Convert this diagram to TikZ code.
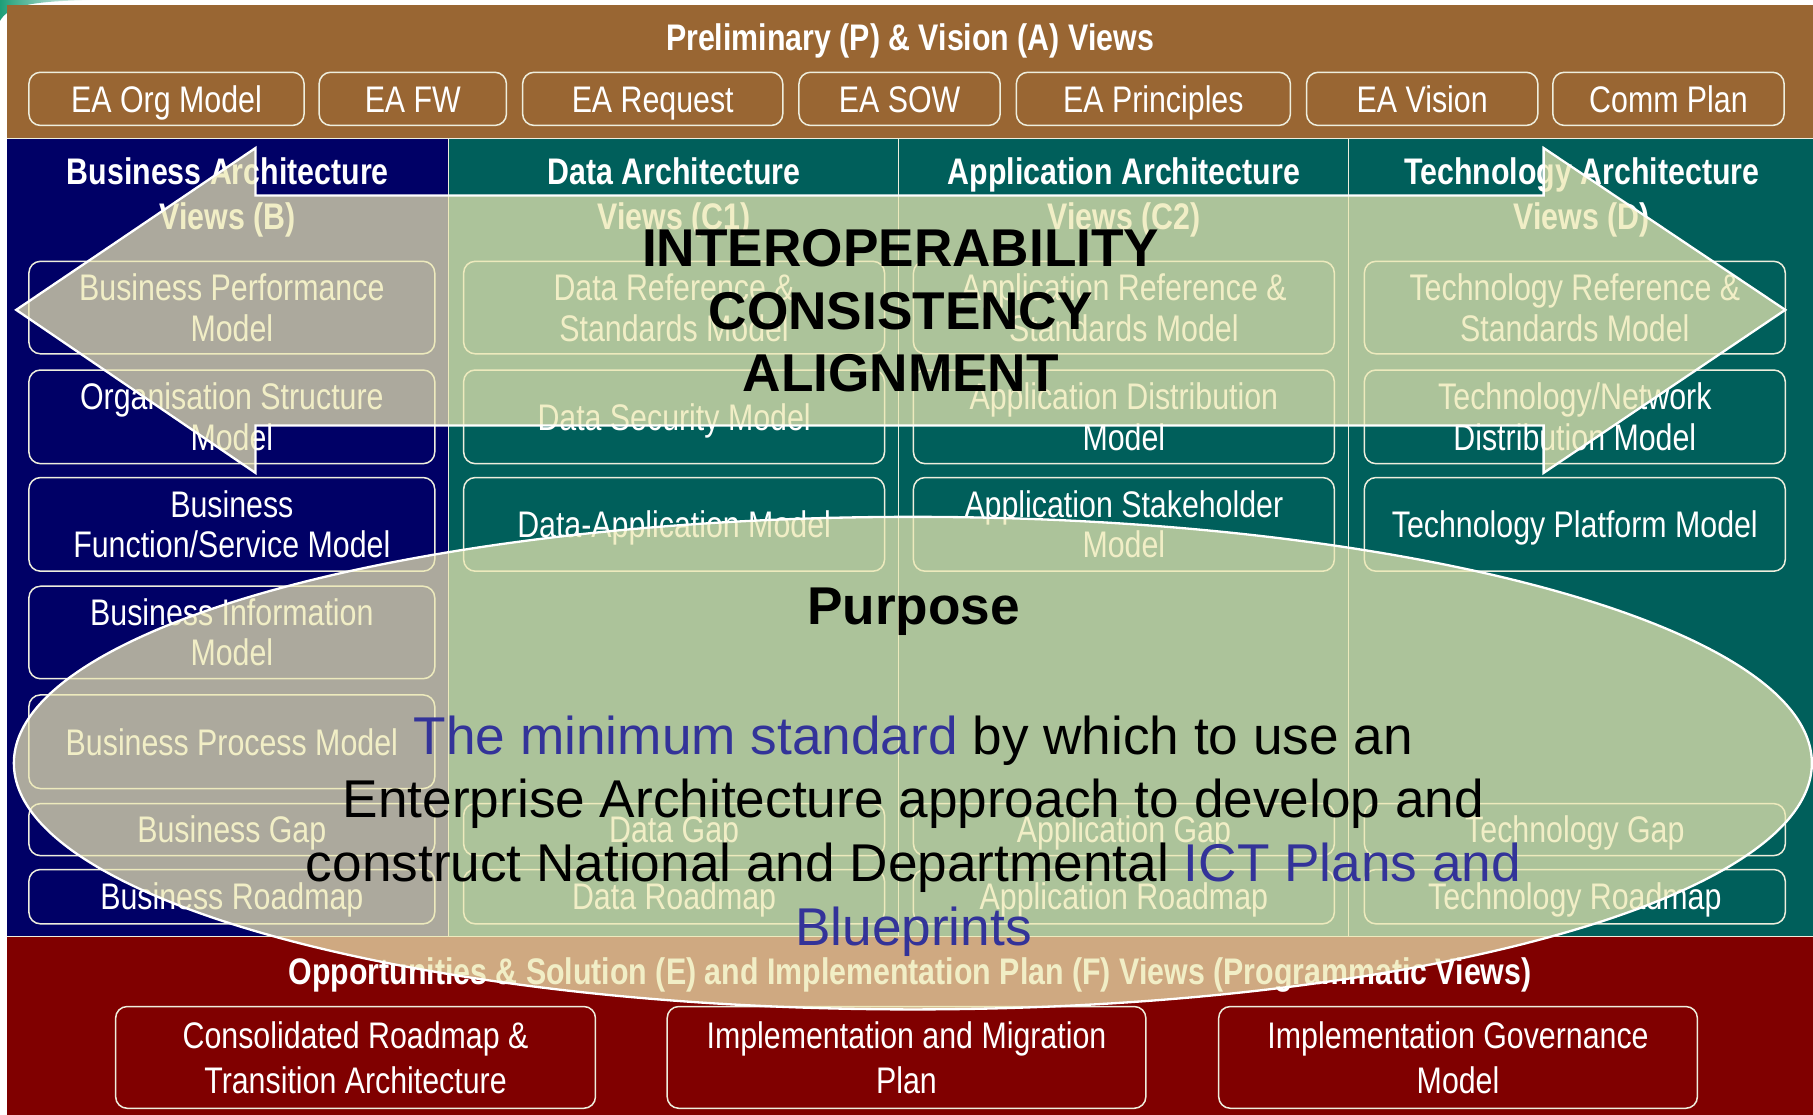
\documentclass[tikz,border=0pt]{standalone}
\usepackage{fontspec}
\setmainfont{Liberation Sans}
\newfontfamily\narrowfont{Liberation Sans}[FakeStretch=0.82]
\definecolor{brownband}{HTML}{996633}
\definecolor{navycol}{HTML}{000066}
\definecolor{tealcol}{HTML}{005F5B}
\definecolor{redband}{HTML}{800000}
\definecolor{lineclr}{HTML}{EEEEDD}
\definecolor{overlayclr}{RGB}{237,233,178}
\definecolor{bluetxt}{HTML}{333399}
\definecolor{cornerclr}{HTML}{1E9E78}
\begin{document}
\begin{tikzpicture}[x=1pt,y=-1pt,
  box/.style={draw=lineclr, line width=1.3pt, rounded corners=10pt, text=white,
    font=\narrowfont\fontsize{32}{35}\selectfont, align=center, inner sep=0pt},
  sbox/.style={box, text height=23pt, text depth=0pt},
  bigbox/.style={box, font=\narrowfont\fontsize{32}{39}\selectfont},
  headtxt/.style={text=white, font=\narrowfont\bfseries\fontsize{32}{39}\selectfont, align=center, inner sep=0pt},
  titletxt/.style={headtxt, text height=23pt, text depth=0pt},
  overlayshape/.style={fill=overlayclr, fill opacity=0.73, draw=white, line width=2pt},
  bigtxt/.style={text=black, font=\bfseries\fontsize{46}{54}\selectfont, align=center, inner sep=0pt},
  purposetxt/.style={text=black, font=\fontsize{46}{55}\selectfont, align=center, inner sep=0pt}
]
\useasboundingbox (0,0) rectangle (1568,964);
\fill[white] (0,0) rectangle (1568,964);
% corner artifact
\shade[left color=cornerclr, right color=white] (0,0) -- (80,0) .. controls (30,1) and (8,4) .. (0,18) -- cycle;
% bands
\fill[brownband] (6,4) rectangle (1568,120);
\fill[navycol] (6,120) rectangle (388,810);
\fill[tealcol] (388,120) rectangle (1568,810);
\fill[redband] (6,810) rectangle (1568,964);
\draw[lineclr, line width=1pt] (6,120) -- (1568,120);
\draw[lineclr, line width=1pt] (6,810) -- (1568,810);
\draw[lineclr, line width=1pt] (388,120) -- (388,810);
\draw[lineclr, line width=1pt] (777,120) -- (777,810);
\draw[lineclr, line width=1pt] (1166,120) -- (1166,810);

% top band
\node[titletxt] (ptitle) at (787,32.5) {Preliminary (P) \& Vision (A) Views};
\node[sbox, minimum width=238pt, minimum height=46pt] (orgmodel) at (144,85.5) {EA Org Model};
\node[sbox, minimum width=162pt, minimum height=46pt] (fw) at (357,85.5) {EA FW};
\node[sbox, minimum width=225pt, minimum height=46pt] (request) at (564.5,85.5) {EA Request};
\node[sbox, minimum width=174pt, minimum height=46pt] (sow) at (778,85.5) {EA SOW};
\node[sbox, minimum width=237pt, minimum height=46pt] (principles) at (997.5,85.5) {EA Principles};
\node[sbox, minimum width=200pt, minimum height=46pt] (vision) at (1230,85.5) {EA Vision};
\node[sbox, minimum width=200pt, minimum height=46pt] (comm) at (1443,85.5) {Comm Plan};

% headers
\node[headtxt] (hbus) at (197,171) {Business Architecture\\Views (B)};
\node[headtxt] (hdata) at (583,171) {Data Architecture\\Views (C1)};
\node[headtxt] (happ) at (972,171) {Application Architecture\\Views (C2)};
\node[headtxt] (htech) at (1368,171) {Technology Architecture\\Views (D)};

% business column
\node[box, minimum width=351pt, minimum height=80pt] (b1) at (200.5,266) {Business Performance\\Model};
\node[box, minimum width=351pt, minimum height=81pt] (b2) at (200.5,360.5) {Organisation Structure\\Model};
\node[box, minimum width=351pt, minimum height=81pt] (b3) at (200.5,453.5) {Business\\Function/Service Model};
\node[box, minimum width=351pt, minimum height=80pt] (b4) at (200.5,547) {Business Information\\Model};
\node[sbox, minimum width=351pt, minimum height=81pt] (b5) at (200.5,641.5) {Business Process Model};
\node[sbox, minimum width=351pt, minimum height=45pt] (b6) at (200.5,717.5) {Business Gap};
\node[sbox, minimum width=351pt, minimum height=47pt] (b7) at (200.5,775.5) {Business Roadmap};

% data column
\node[box, minimum width=364pt, minimum height=80pt] (d1) at (583,266) {Data Reference \&\\Standards Model};
\node[sbox, minimum width=364pt, minimum height=81pt] (d2) at (583,360.5) {Data Security Model};
\node[sbox, minimum width=364pt, minimum height=81pt] (d3) at (583,453.5) {Data-Application Model};
\node[sbox, minimum width=364pt, minimum height=45pt] (d6) at (583,717.5) {Data Gap};
\node[sbox, minimum width=364pt, minimum height=47pt] (d7) at (583,775.5) {Data Roadmap};

% application column
\node[box, minimum width=364pt, minimum height=80pt] (a1) at (972,266) {Application Reference \&\\Standards Model};
\node[box, minimum width=364pt, minimum height=81pt] (a2) at (972,360.5) {Application Distribution\\Model};
\node[box, minimum width=364pt, minimum height=81pt] (a3) at (972,453.5) {Application Stakeholder\\Model};
\node[sbox, minimum width=364pt, minimum height=45pt] (a6) at (972,717.5) {Application Gap};
\node[sbox, minimum width=364pt, minimum height=47pt] (a7) at (972,775.5) {Application Roadmap};

% technology column
\node[box, minimum width=364pt, minimum height=80pt] (t1) at (1362,266) {Technology Reference \&\\Standards Model};
\node[box, minimum width=364pt, minimum height=81pt] (t2) at (1362,360.5) {Technology/Network\\Distribution Model};
\node[sbox, minimum width=364pt, minimum height=81pt] (t3) at (1362,453.5) {Technology Platform Model};
\node[sbox, minimum width=364pt, minimum height=45pt] (t6) at (1362,717.5) {Technology Gap};
\node[sbox, minimum width=364pt, minimum height=47pt] (t7) at (1362,775.5) {Technology Roadmap};

% bottom band
\node[titletxt] (otitle) at (787,840) {Opportunities \& Solution (E) and Implementation Plan (F) Views (Programmatic Views)};
\node[bigbox, minimum width=415pt, minimum height=88pt] (cons) at (307.5,914.5) {Consolidated Roadmap \&\\Transition Architecture};
\node[bigbox, minimum width=414pt, minimum height=88pt] (migr) at (784,914.5) {Implementation and Migration\\Plan};
\node[bigbox, minimum width=414pt, minimum height=88pt] (gov) at (1261,914.5) {Implementation Governance\\Model};

% overlays
\draw[overlayshape] (14,268) -- (221,128) -- (221,169) -- (1335,169) -- (1335,128) -- (1544,268)
  -- (1335,409) -- (1335,368) -- (221,368) -- (221,409) -- cycle;
\draw[overlayshape] (789.5,660) ellipse [x radius=777.5, y radius=213];

\node[bigtxt] (interop) at (779,269) {INTEROPERABILITY\\CONSISTENCY\\ALIGNMENT};
\node[bigtxt, text height=33pt, text depth=0pt] (purpose) at (790,524) {Purpose};
\node[purposetxt] (purposebody) at (790,723) {{\color{bluetxt}The minimum standard} by which to use an\\Enterprise Architecture approach to develop and\\construct National and Departmental {\color{bluetxt}ICT Plans and}\\{\color{bluetxt}Blueprints}};
\end{tikzpicture}
\end{document}
